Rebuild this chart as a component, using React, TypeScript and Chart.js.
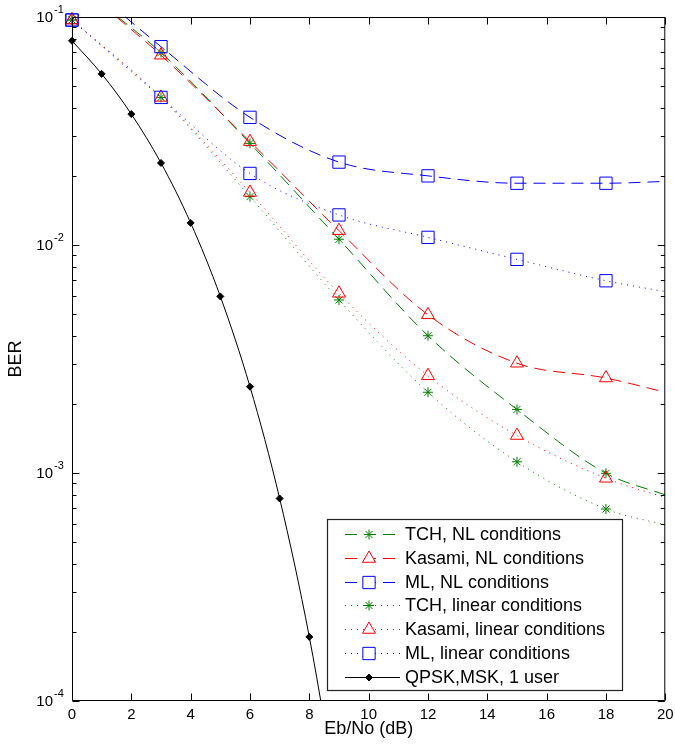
import React, { useEffect, useRef } from 'react';
import { Chart, registerables } from 'chart.js';

Chart.register(...registerables);

// ---------- data ----------
const xTickValues = [0, 2, 4, 6, 8, 10, 12, 14, 16, 18, 20];
const yDecades = [1e-1, 1e-2, 1e-3, 1e-4];
const yDecadeExponents = ['-1', '-2', '-3', '-4'];
const markerEbNo = [0, 3, 6, 9, 12, 15, 18];

const ebnoTchNL = [0, 0.75, 1.55, 3, 6, 9, 12, 15, 18, 20];
const tchNL = [0.097, null, 0.1, 0.0698, 0.0279, 0.0106, 0.004, 0.0019, 0.000997, 0.000802];

const ebnoKasamiNL = [0, 0.75, 1.5, 3, 6, 9, 12, 15, 18, 20];
const kasamiNL = [0.097, null, 0.1, 0.068, 0.0284, 0.01156, 0.00494, 0.00303, 0.00261, 0.00226];

const ebnoMlNL = [0, 0.9, 1.8, 3, 6, 9, 12, 15, 18, 20];
const mlNL = [0.097, null, 0.1, 0.0741, 0.0363, 0.0231, 0.0201, 0.01866, 0.01866, 0.019];

const ebnoLinear = [0, 3, 6, 9, 12, 15, 18, 20];
const tchLinear = [0.097, 0.0444, 0.0163, 0.00574, 0.00226, 0.00112, 0.000695, 0.000592];
const kasamiLinear = [0.097, 0.0444, 0.017, 0.00614, 0.00267, 0.00146, 0.000948, 0.00078];
const mlLinear = [0.097, 0.0444, 0.0206, 0.01355, 0.0108, 0.00865, 0.00697, 0.00624];

const ebnoQpsk = [0, 1, 2, 3, 4, 5, 6, 7, 8, 9];
const qpskBer = [0.0786, 0.0563, 0.0375, 0.0229, 0.0125, 0.00595, 0.00239, 0.000773, 0.000191, 0.0000336];

const legendLabels = [
  'TCH, NL conditions',
  'Kasami, NL conditions',
  'ML, NL conditions',
  'TCH, linear conditions',
  'Kasami, linear conditions',
  'ML, linear conditions',
  'QPSK,MSK, 1 user',
];

// ---------- styles ----------
const FONT = "'Liberation Sans', Arial, Helvetica, sans-serif";
const GREEN = 'rgb(0,128,0)';
const RED = 'rgb(255,0,0)';
const BLUE = 'rgb(0,0,255)';
const BLACK = 'rgb(0,0,0)';
const DASHED = [12, 7];
const DOTTED = [1, 5];
const SOLID: number[] = [];

type Marker = 'star' | 'triangle' | 'rect' | 'rectRot';
interface Series {
  xs: number[];
  ys: (number | null)[];
  color: string;
  dash: number[];
  marker: Marker;
  r: number;
  fill: string;
  everyPoint?: boolean;
}

const series: Series[] = [
  { xs: ebnoTchNL, ys: tchNL, color: GREEN, dash: DASHED, marker: 'star', r: 5, fill: 'rgba(0,0,0,0)' },
  { xs: ebnoKasamiNL, ys: kasamiNL, color: RED, dash: DASHED, marker: 'triangle', r: 7.5, fill: 'rgba(0,0,0,0)' },
  { xs: ebnoMlNL, ys: mlNL, color: BLUE, dash: DASHED, marker: 'rect', r: 8.7, fill: 'rgba(0,0,0,0)' },
  { xs: ebnoLinear, ys: tchLinear, color: GREEN, dash: DOTTED, marker: 'star', r: 5, fill: 'rgba(0,0,0,0)' },
  { xs: ebnoLinear, ys: kasamiLinear, color: RED, dash: DOTTED, marker: 'triangle', r: 7.5, fill: 'rgba(0,0,0,0)' },
  { xs: ebnoLinear, ys: mlLinear, color: BLUE, dash: DOTTED, marker: 'rect', r: 8.7, fill: 'rgba(0,0,0,0)' },
  { xs: ebnoQpsk, ys: qpskBer, color: BLACK, dash: SOLID, marker: 'rectRot', r: 3.5, fill: BLACK, everyPoint: true },
];

function drawMarker(ctx: CanvasRenderingContext2D, m: Marker, x: number, y: number, r: number, color: string, fill: string) {
  ctx.save();
  ctx.setLineDash([]);
  ctx.strokeStyle = color;
  ctx.fillStyle = fill;
  ctx.lineWidth = 1;
  ctx.beginPath();
  if (m === 'star') {
    const d = r * Math.SQRT1_2;
    ctx.moveTo(x - r, y); ctx.lineTo(x + r, y);
    ctx.moveTo(x, y - r); ctx.lineTo(x, y + r);
    ctx.moveTo(x - d, y - d); ctx.lineTo(x + d, y + d);
    ctx.moveTo(x - d, y + d); ctx.lineTo(x + d, y - d);
    ctx.stroke();
  } else if (m === 'triangle') {
    const s = r * Math.sin(Math.PI / 3);
    ctx.moveTo(x, y - r);
    ctx.lineTo(x + s, y + r / 2);
    ctx.lineTo(x - s, y + r / 2);
    ctx.closePath();
    ctx.fill(); ctx.stroke();
  } else if (m === 'rect') {
    const h = r * Math.SQRT1_2;
    ctx.rect(x - h, y - h, 2 * h, 2 * h);
    ctx.fill(); ctx.stroke();
  } else {
    ctx.moveTo(x, y - r); ctx.lineTo(x + r, y); ctx.lineTo(x, y + r); ctx.lineTo(x - r, y);
    ctx.closePath();
    ctx.fill(); ctx.stroke();
  }
  ctx.restore();
}

const axesPlugin = {
  id: 'matlabAxes',
  afterDraw(chart: any) {
    const { ctx, chartArea: a, scales } = chart;
    const xs = scales.x;
    const ys = scales.y;
    const L = a.left + 0.5, R = a.right - 0.5, T = a.top + 0.5, B = a.bottom - 0.5;
    ctx.save();
    ctx.strokeStyle = '#000';
    ctx.lineWidth = 1;
    ctx.setLineDash([]);
    ctx.beginPath();
    ctx.rect(L, T, R - L, B - T);
    // x ticks (inside, top & bottom)
    xTickValues.forEach((v) => {
      const px = Math.round(xs.getPixelForValue(v)) + 0.5;
      ctx.moveTo(px, B); ctx.lineTo(px, B - 7);
      ctx.moveTo(px, T); ctx.lineTo(px, T + 7);
    });
    // y ticks: decades and minor
    for (let k = -4; k <= -1; k++) {
      for (let m = 1; m <= 9; m++) {
        const v = m * Math.pow(10, k);
        if (v > 0.1 + 1e-12) continue;
        const py = Math.round(ys.getPixelForValue(v)) + 0.5;
        const len = m === 1 ? 7 : 4;
        ctx.moveTo(L, py); ctx.lineTo(L + len, py);
        ctx.moveTo(R, py); ctx.lineTo(R - len, py);
      }
    }
    ctx.stroke();

    // y tick labels 10^k
    ctx.fillStyle = '#000';
    yDecades.forEach((v, i) => {
      const py = ys.getPixelForValue(v);
      ctx.font = `15px ${FONT}`;
      ctx.textAlign = 'right';
      ctx.textBaseline = 'middle';
      ctx.fillText('10', a.left - 19, py + 1);
      ctx.font = `11px ${FONT}`;
      ctx.textAlign = 'left';
      ctx.textBaseline = 'alphabetic';
      ctx.fillText(yDecadeExponents[i], a.left - 18, py - 4);
    });

    // legend
    const bx = 327.5, by = 519.5, bw = 295, bh = 171;
    ctx.fillStyle = '#fff';
    ctx.fillRect(bx, by, bw, bh);
    ctx.strokeStyle = '#222';
    ctx.lineWidth = 1.2;
    ctx.strokeRect(bx, by, bw, bh);
    ctx.font = `18px ${FONT}`;
    ctx.textAlign = 'left';
    ctx.textBaseline = 'middle';
    legendLabels.forEach((label, i) => {
      const s = series[i];
      const ry = 534 + i * 23.8;
      const ly = Math.round(ry) + 0.5;
      ctx.save();
      ctx.strokeStyle = s.color;
      ctx.lineWidth = 1;
      ctx.setLineDash(s.dash);
      ctx.beginPath();
      ctx.moveTo(345, ly); ctx.lineTo(400, ly);
      ctx.stroke();
      ctx.restore();
      drawMarker(ctx, s.marker, 369, ly, s.r, s.color, s.fill === 'rgba(0,0,0,0)' ? '#fff' : s.fill);
      ctx.fillStyle = '#000';
      ctx.fillText(label, 405, ry + 1);
    });
    ctx.restore();
  },
};

export default function App() {
  const ref = useRef<HTMLCanvasElement>(null);
  useEffect(() => {
    if (!ref.current) return;
    Chart.defaults.font.family = FONT;
    Chart.defaults.color = '#000';
    const datasets = series.map((s, i) => ({
      label: legendLabels[i],
      data: s.xs.map((x, j) => ({ x, y: s.ys[j] })),
      borderColor: s.color,
      backgroundColor: s.fill,
      borderWidth: 1,
      borderDash: s.dash,
      borderCapStyle: 'butt' as const,
      cubicInterpolationMode: 'monotone' as const,
      spanGaps: false,
      order: series.length - i,
      clip: { left: 12, top: 6, right: 0, bottom: 0 },
      pointStyle: s.marker,
      pointBackgroundColor: s.fill,
      pointBorderColor: s.color,
      pointBorderWidth: 1,
      pointRadius: (c: any) => {
        const raw = c.raw;
        if (!raw || raw.y == null) return 0;
        if (s.everyPoint) return s.r;
        return markerEbNo.includes(raw.x) ? s.r : 0;
      },
      pointHoverRadius: 0,
    }));
    const chart = new Chart(ref.current, {
      type: 'line',
      data: { datasets },
      options: {
        animation: false,
        responsive: false,
        devicePixelRatio: 1,
        events: [],
        layout: { padding: { top: 17, right: 8, left: 0, bottom: 0 } },
        plugins: { legend: { display: false }, tooltip: { enabled: false } },
        scales: {
          x: {
            type: 'linear',
            min: 0,
            max: 20,
            grid: { display: false, drawTicks: false },
            border: { display: false },
            ticks: { stepSize: 2, padding: 5, font: { size: 15 }, color: '#000', maxRotation: 0, autoSkip: false },
            title: { display: true, text: 'Eb/No (dB)', font: { size: 18 }, color: '#000', padding: { top: 0, bottom: 7 } },
            afterFit: (sc: any) => { sc.height = 46; sc.paddingLeft = 0; sc.paddingRight = 0; },
          },
          y: {
            type: 'logarithmic',
            min: 1e-4,
            max: 1e-1,
            grid: { display: false, drawTicks: false },
            border: { display: false },
            ticks: { display: false },
            title: { display: true, text: 'BER', font: { size: 18 }, color: '#000', padding: { top: 5, bottom: 0 } },
            afterFit: (sc: any) => { sc.width = 72; sc.paddingTop = 0; sc.paddingBottom = 0; },
          },
        },
      } as any,
      plugins: [axesPlugin],
    });
    return () => chart.destroy();
  }, []);
  return (
    <div style={{ position: 'fixed', left: 0, top: 0, width: 675, height: 747, background: '#fff' }}>
      <canvas ref={ref} width={675} height={747} style={{ display: 'block', width: 675, height: 747 }} />
    </div>
  );
}
